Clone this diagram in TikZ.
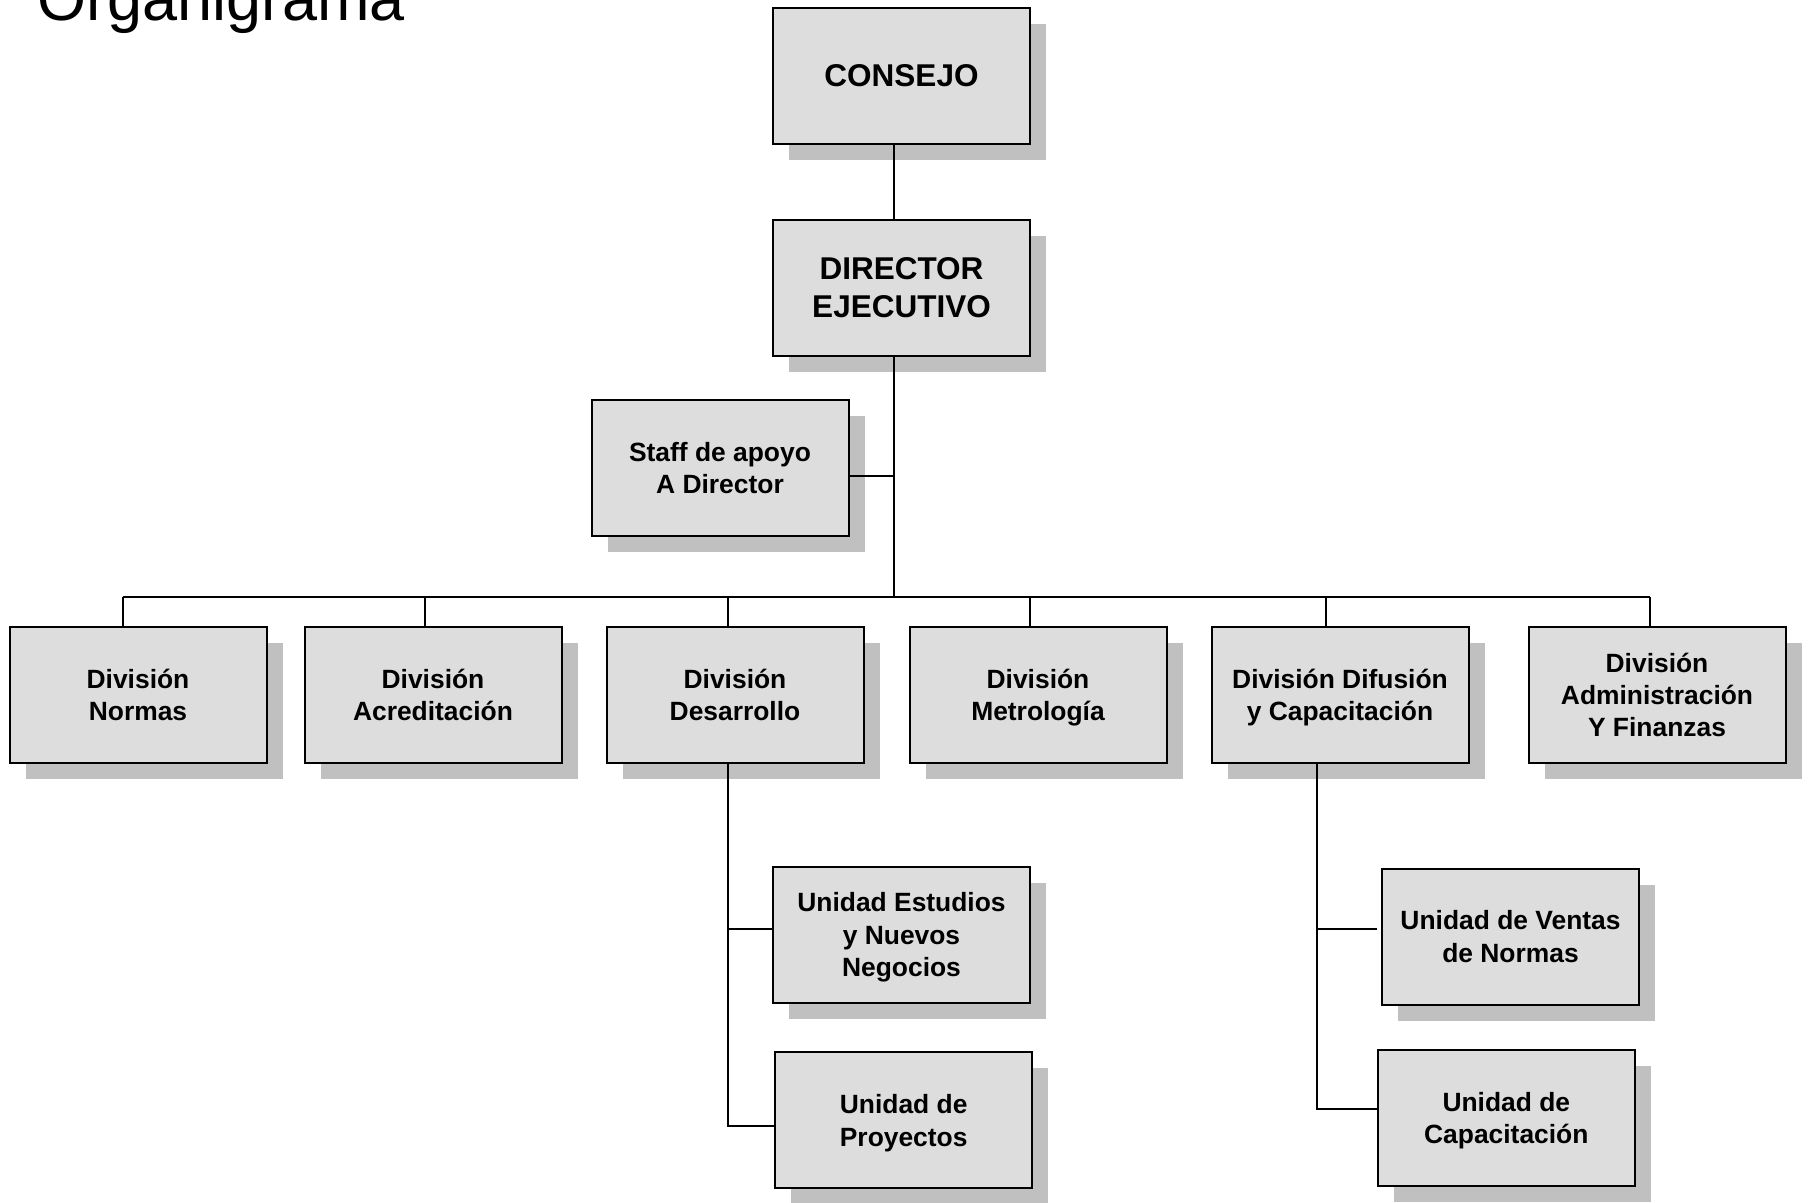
\documentclass[tikz,border=0pt]{standalone}
\usepackage{fontspec}
\setmainfont{Liberation Sans}
\usetikzlibrary{shadows}

\definecolor{boxgray}{RGB}{221,221,221}
\definecolor{shadowgray}{RGB}{192,192,192}

% last line of a box, set without its descenders
\newcommand\lastline[1]{\raisebox{0pt}[\height][0pt]{#1}}

\tikzset{
  orgbox/.style={draw=black, line width=2pt, fill=boxgray,
    minimum width=257pt, minimum height=136pt, inner sep=0pt, align=center,
    font=\fontsize{26.4}{32.4}\selectfont\bfseries,
    drop shadow={shadow xshift=16pt, shadow yshift=-16pt, fill=shadowgray, opacity=1}},
  topbox/.style={orgbox, font=\fontsize{31.5}{38}\selectfont\bfseries},
  link/.style={line width=2pt, draw=black}
}

\begin{document}
\begin{tikzpicture}[x=1pt, y=-1pt]
  \useasboundingbox (0,0) rectangle (1812,1202);

  % Title, cut by the top edge
  \node [anchor=base west, inner sep=0pt, font=\fontsize{63}{70}\selectfont] (title) at (37,20) {Organigrama};

  % Drawing top boxes
  \node [topbox] (consejo) at (901.5,76) {CONSEJO};
  \node [topbox] (director) at (901.5,288) {DIRECTOR\\EJECUTIVO};
  \node [orgbox] (staff) at (720,468) {Staff de apoyo\\A Director};

  % Drawing division boxes
  \node [orgbox] (normas) at (138,695) {Divisi\'on\\Normas};
  \node [orgbox] (acreditacion) at (433,695) {Divisi\'on\\Acreditaci\'on};
  \node [orgbox] (desarrollo) at (735,695) {Divisi\'on\\Desarrollo};
  \node [orgbox] (metrologia) at (1038,695) {Divisi\'on\\\lastline{Metrolog\'ia}};
  \node [orgbox] (difusion) at (1340,695) {Divisi\'on Difusi\'on\\\lastline{y Capacitaci\'on}};
  \node [orgbox] (administracion) at (1657,695) {Divisi\'on\\Administraci\'on\\Y Finanzas};

  % Drawing unit boxes
  \node [orgbox] (estudios) at (901.5,934.5) {Unidad Estudios\\y Nuevos\\\lastline{Negocios}};
  \node [orgbox] (proyectos) at (903.7,1120.4) {Unidad de\\\lastline{Proyectos}};
  \node [orgbox] (ventas) at (1510.5,936.6) {Unidad de Ventas\\de Normas};
  \node [orgbox] (capacitacion) at (1506.3,1118) {Unidad de\\\lastline{Capacitaci\'on}};

  % Marking bus points
  \coordinate (spine) at (893.7,597);
  \coordinate (staffk) at (893.7,475.7);
  \coordinate (dNormas) at (122.5,597);
  \coordinate (dAcred) at (425.3,597);
  \coordinate (dDes) at (728,597);
  \coordinate (dMet) at (1029.6,597);
  \coordinate (dDif) at (1325.5,597);
  \coordinate (dAdm) at (1650.2,597);
  \coordinate (kEst) at (728,929.1);
  \coordinate (kPro) at (728,1125.6);
  \coordinate (kVen) at (1317.3,929.3);
  \coordinate (kCap) at (1317.3,1109.3);

  % Drawing connectors
  \draw [link] (consejo.south -| spine) -- (director.north -| spine);
  \draw [link] (director.south -| spine) -- (spine);
  \draw [link] (staff.east |- staffk) -- (staffk);
  \draw [link] (dNormas) -- (dAdm);
  \draw [link] (dNormas) -- (dNormas |- normas.north);
  \draw [link] (dAcred) -- (dAcred |- acreditacion.north);
  \draw [link] (dDes) -- (dDes |- desarrollo.north);
  \draw [link] (dMet) -- (dMet |- metrologia.north);
  \draw [link] (dDif) -- (dDif |- difusion.north);
  \draw [link] (dAdm) -- (dAdm |- administracion.north);

  % Drawing Desarrollo units
  \draw [link] (kEst |- desarrollo.south) -- (kPro) -- (kPro -| proyectos.west);
  \draw [link] (kEst) -- (kEst -| estudios.west);

  % Drawing Difusion units
  \draw [link] (kVen |- difusion.south) -- (kCap) -- (kCap -| capacitacion.west);
  \draw [link, shorten >=4pt] (kVen) -- (kVen -| ventas.west);
\end{tikzpicture}
\end{document}
